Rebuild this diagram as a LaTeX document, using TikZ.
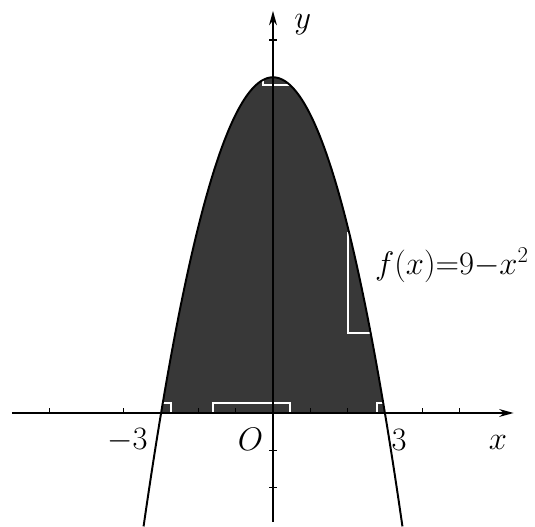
\documentclass[tikz,border=0pt]{standalone}
\usetikzlibrary{arrows.meta}
\begin{document}
\begin{tikzpicture}[x=1cm,y=1cm,
  axis/.style={line width=1.3pt,-{Stealth[length=11pt,width=6pt]}},
  curve/.style={line width=1.5pt},
  tick/.style={line width=0.8pt},
  scanbox/.style={white,line width=1.3pt},
  lbl/.style={font=\fontsize{24}{28}\selectfont,inner sep=0pt}]
\useasboundingbox (-7.319,-3.056) rectangle (7.024,11.072);
% shaded region
\fill[black!78] (-3,0) -- plot[domain=-3:3,samples=100] (\x,{9-\x*\x}) -- cycle;
% white scan marks
\draw[scanbox] (-0.27,9.15) -- (-0.27,8.79) -- (0.67,8.79);
\draw[scanbox] (2.14,4.83) -- (2.01,4.83) -- (2.01,2.14) -- (2.82,2.14);
\draw[scanbox] (-3.08,0) |- (-2.73,0.27) -- (-2.73,0);
\draw[scanbox] (-1.61,0) |- (0.46,0.27) -- (0.46,0);
\draw[scanbox] (2.79,0) |- (3.06,0.27) -- (3.06,0);
% axes
\coordinate (xs) at (-7.0,0);
\coordinate (xe) at (6.45,0);
\coordinate (ys) at (0,-2.91);
\coordinate (ye) at (0,10.78);
\draw[axis] (xs) -- (xe);
\draw[axis] (ys) -- (ye);
\foreach \t in {-6,-4,-2,-1,1,2,4,5}
  \draw[tick] (\t,0) -- (\t,0.13);
\foreach \t in {-2,-1,10}
  \draw[tick] (-0.1,\t) -- (0.1,\t);
% curve
\draw[curve] plot[domain=-3.47:3.47,samples=140] (\x,{9-\x*\x});
% labels
\node[lbl] (ylab) at (0.8,10.4) {$y$};
\node[lbl] (xlab) at (6.03,-0.8) {$x$};
\node[lbl] (olab) at (-0.6,-0.72) {$O$};
\node[lbl] (m3) at (-3.9,-0.72) {$-3$};
\node[lbl] (p3) at (3.38,-0.72) {$3$};
\node[lbl,anchor=west] (flab) at (2.73,3.97) {$f(x){=}9{-}x^2$};
\end{tikzpicture}
\end{document}
